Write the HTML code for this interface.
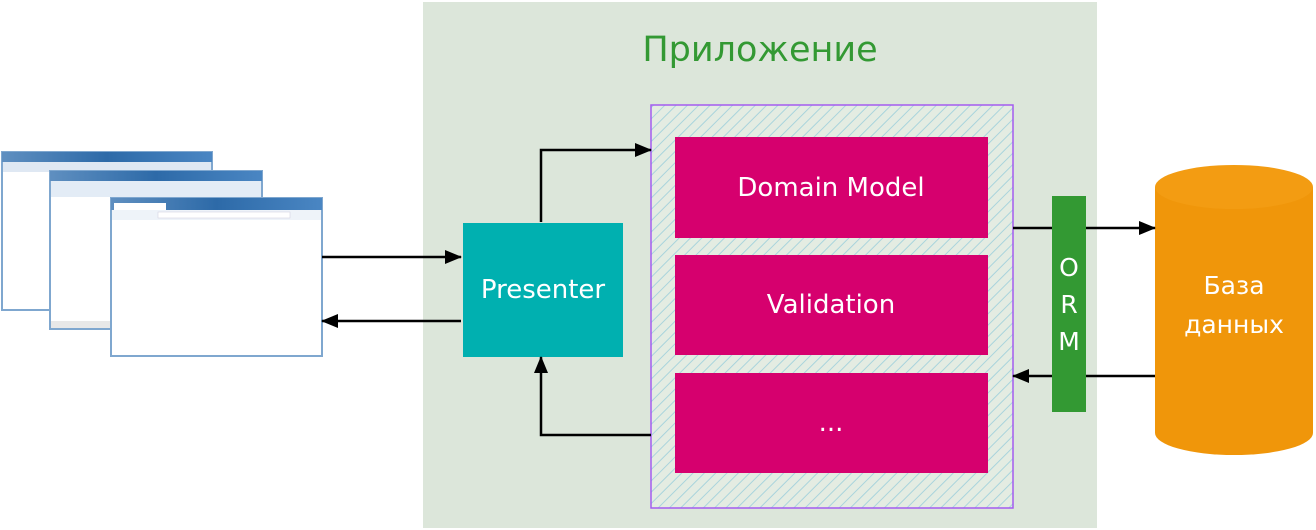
<!DOCTYPE html>
<html><head><meta charset="utf-8"><style>
html,body{margin:0;padding:0;background:#fff;width:1316px;height:530px;overflow:hidden}
text{font-family:"DejaVu Sans","Liberation Sans",sans-serif}
</style></head><body>
<svg width="1316" height="530" viewBox="0 0 1316 530" xmlns="http://www.w3.org/2000/svg">
<defs>
<pattern id="h" width="8" height="8" patternUnits="userSpaceOnUse" patternTransform="rotate(45)">
<rect width="8" height="8" fill="#e4ece2"/><line x1="0" y1="0" x2="0" y2="8" stroke="#a9d4dc" stroke-width="2"/>
</pattern>
<marker id="a" markerWidth="17" markerHeight="14" refX="16" refY="7" orient="auto" markerUnits="userSpaceOnUse" viewBox="0 0 17 14"><path d="M0,0 L17,7 L0,14 z" fill="#000"/></marker>
<linearGradient id="tb" x1="0" x2="1"><stop offset="0" stop-color="#5f8fc0"/><stop offset="0.5" stop-color="#2d6aa8"/><stop offset="1" stop-color="#4a86c3"/></linearGradient>
</defs>
<rect x="423" y="2" width="674" height="526" fill="#dce6da"/>
<text x="760" y="61" font-size="35" fill="#339933" text-anchor="middle">Приложение</text>
<g>
<rect x="2" y="152" width="210" height="158" fill="#fff" stroke="#7fa7cf" stroke-width="2"/>
<rect x="2" y="152" width="210" height="10" fill="url(#tb)"/>
<rect x="3" y="162" width="208" height="10" fill="#dfe8f3"/>
<rect x="50" y="171" width="212" height="158" fill="#fff" stroke="#7fa7cf" stroke-width="2"/>
<rect x="50" y="171" width="212" height="10" fill="url(#tb)"/>
<rect x="51" y="181" width="210" height="16" fill="#e3ecf6"/>
<rect x="51" y="321" width="210" height="7" fill="#e8e8e8"/>
<rect x="111" y="198" width="211" height="158" fill="#fff" stroke="#7fa7cf" stroke-width="2"/>
<rect x="111" y="198" width="211" height="12" fill="url(#tb)"/>
<rect x="114" y="203" width="52" height="8" fill="#fff"/>
<rect x="112" y="210" width="209" height="10" fill="#eef3f9"/>
<rect x="158" y="212" width="132" height="6" fill="#fff" stroke="#ccd" stroke-width="0.5"/>
</g>
<rect x="651" y="105" width="362" height="403" fill="url(#h)" stroke="#a35cf0" stroke-width="1.5"/>
<rect x="675" y="137" width="313" height="101" fill="#d6006e"/>
<rect x="675" y="255" width="313" height="100" fill="#d6006e"/>
<rect x="675" y="373" width="313" height="100" fill="#d6006e"/>
<text x="831" y="196" font-size="26" fill="#fff" text-anchor="middle">Domain Model</text>
<text x="831" y="313" font-size="26" fill="#fff" text-anchor="middle">Validation</text>
<text x="831" y="431" font-size="26" fill="#fff" text-anchor="middle">...</text>
<rect x="463" y="223" width="160" height="134" fill="#00b0b0"/>
<text x="543" y="298" font-size="26" fill="#fff" text-anchor="middle">Presenter</text>
<rect x="1052" y="196" width="34" height="216" fill="#339933"/>
<text x="1069" y="276" font-size="25" fill="#fff" text-anchor="middle">O</text>
<text x="1069" y="313" font-size="25" fill="#fff" text-anchor="middle">R</text>
<text x="1069" y="350" font-size="25" fill="#fff" text-anchor="middle">M</text>
<path d="M1155,187 L1155,433 A79,22 0 0 0 1313,433 L1313,187 Z" fill="#f0960a"/>
<ellipse cx="1234" cy="187" rx="79" ry="22" fill="#f39c12"/>
<text x="1234" y="294" font-size="25" fill="#fff" text-anchor="middle">База</text>
<text x="1234" y="333" font-size="25" fill="#fff" text-anchor="middle">данных</text>
<g stroke="#000" stroke-width="2.5" fill="none">
<line x1="322" y1="257" x2="461" y2="257" marker-end="url(#a)"/>
<line x1="461" y1="321" x2="322" y2="321" marker-end="url(#a)"/>
<polyline points="541,222 541,150 651,150" marker-end="url(#a)"/>
<polyline points="651,435 541,435 541,357" marker-end="url(#a)"/>
<line x1="1013" y1="228" x2="1052" y2="228"/>
<line x1="1086" y1="228" x2="1155" y2="228" marker-end="url(#a)"/>
<line x1="1155" y1="376" x2="1086" y2="376"/>
<line x1="1052" y1="376" x2="1013" y2="376" marker-end="url(#a)"/>
</g>
</svg>
</body></html>
